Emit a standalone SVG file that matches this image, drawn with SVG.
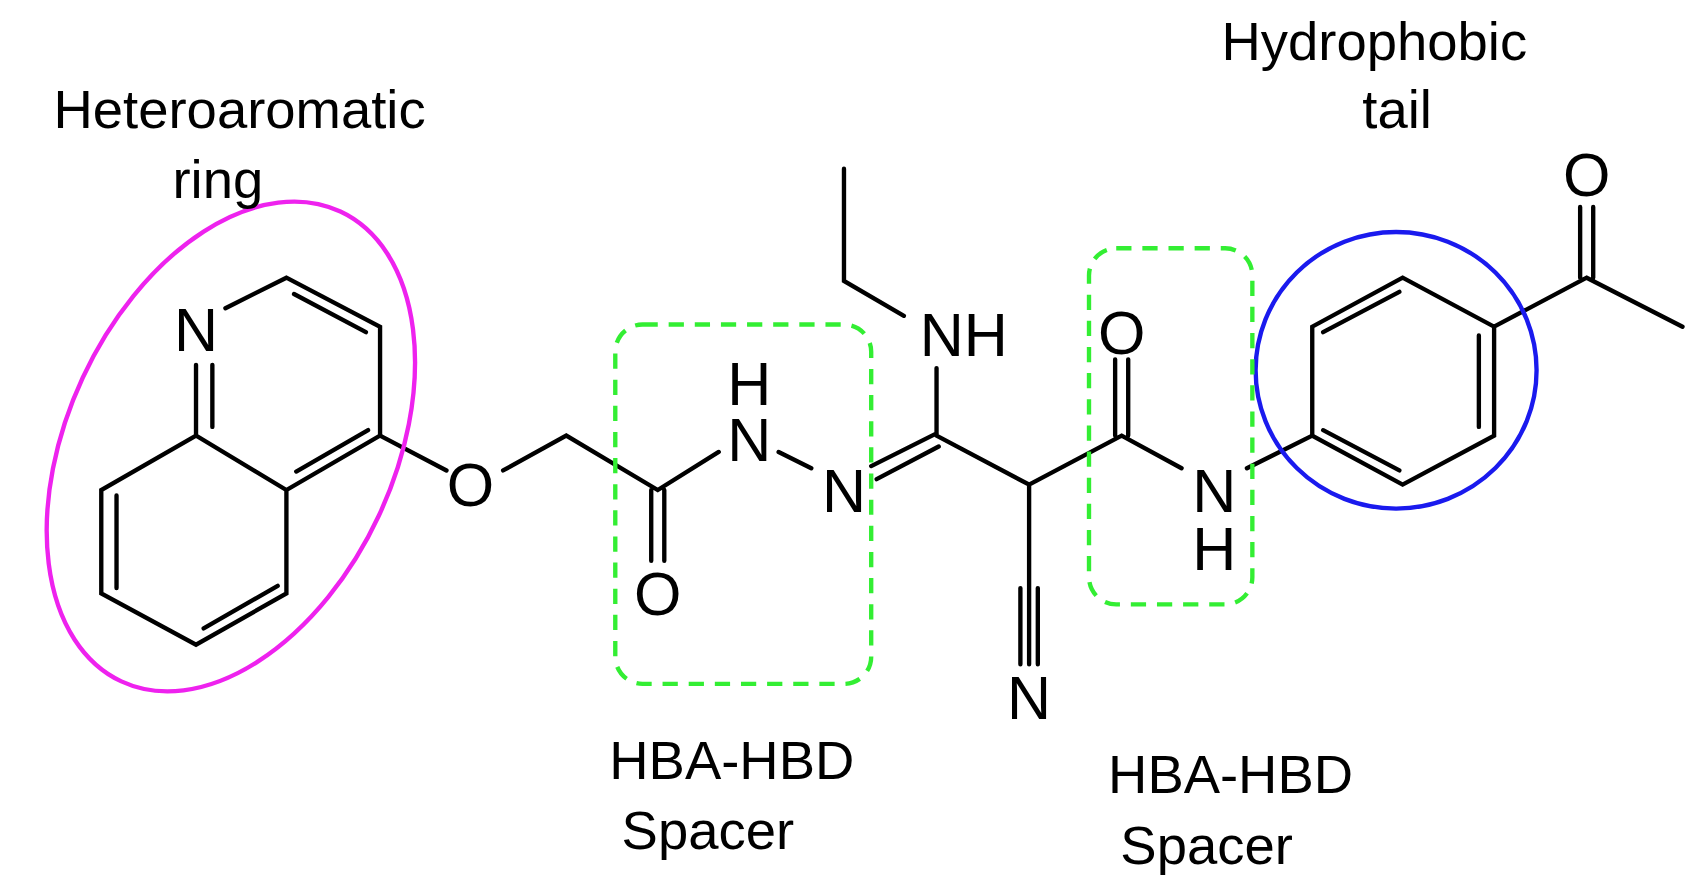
<svg xmlns="http://www.w3.org/2000/svg" width="1699" height="895" viewBox="0 0 1699 895">
<style>
.b{stroke:#000;stroke-width:4;fill:none;stroke-linecap:round}
.a{font-family:"Liberation Sans",Arial,sans-serif;font-size:56px;fill:#000;text-anchor:middle}
.l{font-family:"Liberation Sans",Arial,sans-serif;font-size:50px;fill:#000;text-anchor:middle}
.g{stroke:#33ee33;stroke-width:4;fill:none;stroke-dasharray:14 10}
</style>
<rect width="1699" height="895" fill="#fff"/>
<g transform="scale(1.089)">
<g id="bonds" class="b">
<path d="M207,283 L263,255 L349,300 L349,400 L263,450 L180,400 L180,335 M270,270 L336,305 M195,335 L195,392 M272,433 L338,395 M263,450 L263,545 L180,592 L93,545 L93,450 L180,400 M107,455 L107,540 M187,577 L255,538"/>
<path d="M349,400 L410,432 M462,432 L520,400 L604,450 L660,415 M598,450 L598,515 M610,450 L610,515 M715,415 L745,430 M800,428 L860,398 M805,440 L862,410 M860,400 L860,338 M830,290 L775,258 L775,155 M860,400 L945,445 L945,540 M937,540 L937,610 M945,540 L945,610 M953,540 L953,610 M945,445 L1030,400 L1085,430 M1024,400 L1024,330 M1036,400 L1036,330 M1145,430 L1205,400"/>
<path d="M1205,400 L1205,300 L1288,255 L1372,300 L1372,400 L1288,445 Z M1215,305 L1285,268 M1358,308 L1358,392 M1215,395 L1285,432 M1372,300 L1457,255 L1545,300 M1451,255 L1451,190 M1463,255 L1463,190"/>
</g>
<g id="atoms">
<text class="a" x="180" y="322">N</text>
<text class="a" x="432" y="465">O</text>
<text class="a" x="604" y="565">O</text>
<text class="a" x="688" y="372">H</text>
<text class="a" x="688" y="423">N</text>
<text class="a" x="775" y="470">N</text>
<text class="a" x="885" y="327">NH</text>
<text class="a" x="945" y="660">N</text>
<text class="a" x="1030" y="325">O</text>
<text class="a" x="1115" y="470">N</text>
<text class="a" x="1115" y="523">H</text>
<text class="a" x="1457" y="180">O</text>
</g>
<g id="highlights">
<ellipse cx="212" cy="410" rx="150" ry="238" transform="rotate(25 212 410)" stroke="#ee22ee" stroke-width="4" fill="none"/>
<ellipse cx="1282" cy="340" rx="129" ry="127" stroke="#1a1aee" stroke-width="4" fill="none"/>
<rect class="g" x="565" y="298" width="235" height="330" rx="25"/>
<rect class="g" x="1000" y="228" width="150" height="327" rx="25"/>
</g>
<g id="labels">
<text class="l" x="220" y="118">Heteroaromatic</text>
<text class="l" x="200" y="182">ring</text>
<text class="l" x="1262" y="55">Hydrophobic</text>
<text class="l" x="1283" y="118">tail</text>
<text class="l" x="672" y="715">HBA-HBD</text>
<text class="l" x="650" y="780">Spacer</text>
<text class="l" x="1130" y="728">HBA-HBD</text>
<text class="l" x="1108" y="793">Spacer</text>
</g>
</g>
</svg>
